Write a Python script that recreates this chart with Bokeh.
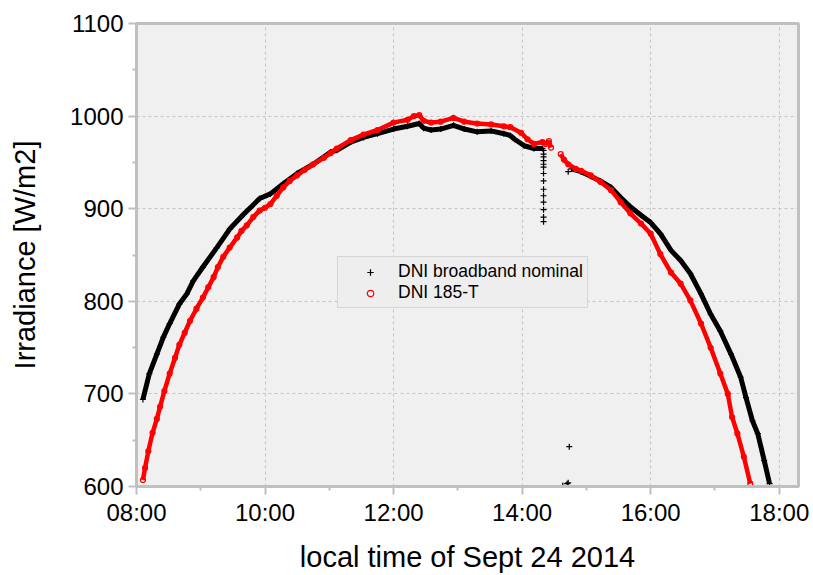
import numpy as np
from bokeh.plotting import figure
from bokeh.models import FixedTicker, Legend, LegendItem, Range1d
from bokeh.embed import file_html
from bokeh.resources import INLINE

# ---------------- data (local time, irradiance in W/m2) ----------------
black_before_times = ["08:06", "08:12", "08:19", "08:25", "08:31", "08:40", "08:47", "08:53",
                      "09:02", "09:15", "09:27", "09:40", "09:55", "10:05", "10:17", "10:30",
                      "10:45", "11:01", "11:07", "11:20", "11:32", "11:45", "12:00", "12:13",
                      "12:24", "12:28", "12:35", "12:44", "12:56", "13:06", "13:18", "13:31",
                      "13:43", "13:49", "13:53", "14:02", "14:11", "14:19"]
black_before_values = [694, 722, 743, 761, 776, 797, 808, 822,
                       837, 858, 878, 894, 911, 916, 927, 938,
                       948, 961, 963, 972, 977, 981, 986, 989,
                       992, 987, 985, 986, 990, 986, 983, 984,
                       981, 979, 975, 968, 965, 965]

black_after_times = ["14:46", "14:55", "15:04", "15:13", "15:23", "15:32", "15:41", "15:51",
                     "16:00", "16:09", "16:19", "16:28", "16:37", "16:47", "16:56", "17:05",
                     "17:15", "17:24", "17:29", "17:35", "17:40", "17:46", "17:51"]
black_after_values = [943, 940, 935, 930, 923, 912, 902, 893,
                      885, 873, 855, 844, 830, 808, 786, 768,
                      743, 718, 696, 671, 657, 628, 603]

black_isolated_times = ["14:20", "14:20", "14:20", "14:20", "14:20", "14:20", "14:20",
                        "14:20", "14:20", "14:20", "14:20", "14:20", "14:20", "14:20",
                        "14:38", "14:42", "14:43", "14:43", "14:44"]
black_isolated_values = [963, 959, 956, 952, 948, 945, 938,
                         930, 921, 914, 907, 899, 891, 886,
                         601, 603, 604, 940, 643]

red_before_times = ["08:06", "08:08", "08:11", "08:15", "08:19", "08:22", "08:26", "08:31",
                    "08:36", "08:40", "08:45", "08:50", "08:56", "09:02", "09:07", "09:12",
                    "09:16", "09:21", "09:27", "09:34", "09:38", "09:43", "09:49", "09:55",
                    "10:00", "10:05", "10:11", "10:17", "10:23", "10:30", "10:37", "10:45",
                    "10:55", "11:01", "11:07", "11:20", "11:32", "11:45", "12:00", "12:13",
                    "12:19", "12:24", "12:28", "12:35", "12:44", "12:56", "13:06", "13:18",
                    "13:31", "13:43", "13:49", "13:59", "14:05", "14:11", "14:19", "14:22",
                    "14:25", "14:27"]
red_before_values = [607, 620, 638, 658, 673, 686, 703, 722,
                     739, 753, 766, 779, 792, 804, 815, 826,
                     837, 848, 858, 869, 876, 882, 891, 898,
                     901, 905, 914, 923, 930, 936, 942, 948,
                     955, 960, 965, 974, 980, 985, 993, 996,
                     1000, 1001, 995, 993, 994, 998, 994, 992,
                     991, 989, 988, 982, 975, 970, 972, 970,
                     973, 966]

red_after_times = ["14:36", "14:39", "14:43", "14:50", "14:55", "15:04", "15:13", "15:23",
                   "15:32", "15:41", "15:51", "16:00", "16:09", "16:19", "16:28", "16:37",
                   "16:47", "16:56", "17:05", "17:12", "17:16", "17:21", "17:27", "17:33"]
red_after_values = [959, 953, 948, 943, 941, 936, 929, 920,
                    907, 895, 884, 873, 851, 831, 819, 801,
                    776, 750, 722, 700, 675, 657, 632, 603]

x_tick_hours = [8, 10, 12, 14, 16, 18]
x_tick_labels = ["08:00", "10:00", "12:00", "14:00", "16:00", "18:00"]
x_minor_hours = [9, 11, 13, 15, 17]
y_ticks = [600, 700, 800, 900, 1000, 1100]
y_minor_ticks = [650, 750, 850, 950, 1050]

series_names = ["DNI broadband nominal", "DNI 185-T"]


def to_hours(times):
    return [int(t[:2]) + int(t[3:5]) / 60.0 for t in times]


FONT = "Liberation Sans"
GRAY = "#c0c0c0"

p = figure(width=813, height=575, output_backend="svg", toolbar_location=None,
           x_range=Range1d(8.0, 18.3), y_range=Range1d(600, 1100),
           min_border_left=136, min_border_right=15, min_border_top=23,
           min_border_bottom=89)

p.background_fill_color = "#f0f0f0"
p.border_fill_color = "white"
p.outline_line_color = GRAY
p.outline_line_width = 3

# black series (line band + markers)
for tt, vv in ((black_before_times, black_before_values), (black_after_times, black_after_values)):
    p.line(to_hours(tt), vv, line_color="black", line_width=5)
black_r = None
for tt, vv in ((black_before_times, black_before_values), (black_after_times, black_after_values),
               (black_isolated_times, black_isolated_values)):
    r = p.scatter(to_hours(tt), vv, marker="cross", size=6, line_color="black", line_width=1.2)
    if black_r is None:
        black_r = r

# red series (line band + open circles)
for tt, vv in ((red_before_times, red_before_values), (red_after_times, red_after_values)):
    p.line(to_hours(tt), vv, line_color="#ff0000", line_width=4.5)
red_r = None
for tt, vv in ((red_before_times, red_before_values), (red_after_times, red_after_values)):
    r = p.scatter(to_hours(tt), vv, marker="circle", size=5, line_color="#ff0000",
                  fill_color=None, line_width=1.2)
    if red_r is None:
        red_r = r

# axes
p.xaxis.ticker = FixedTicker(ticks=x_tick_hours, minor_ticks=x_minor_hours)
p.yaxis.ticker = FixedTicker(ticks=y_ticks, minor_ticks=y_minor_ticks)
p.xaxis.major_label_overrides = {h: lab for h, lab in zip(x_tick_hours, x_tick_labels)}
p.xaxis.axis_label = "local time of Sept 24 2014"
p.yaxis.axis_label = "Irradiance [W/m2]"

for ax in (p.xaxis[0], p.yaxis[0]):
    ax.axis_line_color = GRAY
    ax.axis_line_width = 3
    ax.major_tick_line_color = GRAY
    ax.major_tick_line_width = 2
    ax.major_tick_out = 8
    ax.major_tick_in = 0
    ax.minor_tick_line_color = GRAY
    ax.minor_tick_line_width = 2
    ax.minor_tick_out = 4
    ax.minor_tick_in = 0
    ax.major_label_text_font = FONT
    ax.major_label_text_font_size = "24px"
    ax.major_label_text_color = "black"
    ax.axis_label_text_font = FONT
    ax.axis_label_text_font_size = "29px"
    ax.axis_label_text_font_style = "normal"
    ax.axis_label_text_color = "black"

p.xaxis.major_label_standoff = 4
p.yaxis.major_label_standoff = 5
p.xaxis.axis_label_standoff = 12
p.yaxis.axis_label_standoff = 26

for g in (p.xgrid[0], p.ygrid[0]):
    g.grid_line_color = "#c4c4c4"
    g.grid_line_dash = "3 3"
    g.grid_line_width = 1

legend = Legend(items=[LegendItem(label=series_names[0], renderers=[black_r]),
                       LegendItem(label=series_names[1], renderers=[red_r])],
                location=(201, 178))
legend.label_text_font = FONT
legend.label_text_font_size = "17.5px"
legend.label_text_color = "black"
legend.background_fill_color = "#eeeeee"
legend.background_fill_alpha = 1.0
legend.border_line_color = "#bdbdbd"
legend.border_line_width = 1
legend.padding = 4
legend.spacing = 0
legend.margin = 0
legend.glyph_width = 56
legend.glyph_height = 16
legend.label_height = 16
legend.label_standoff = 0
p.add_layout(legend, "center")

open("out.html", "w").write(file_html(p, INLINE))
